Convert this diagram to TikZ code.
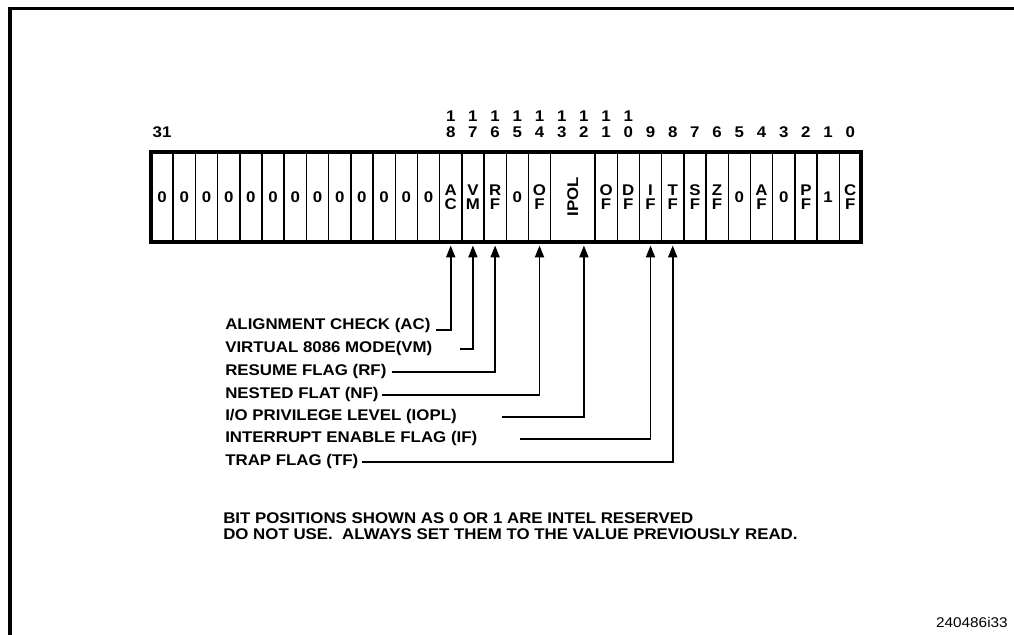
\documentclass[tikz,border=0pt]{standalone}
\usepackage{fontspec}
\setmainfont{Liberation Sans}[FakeStretch=1.09]
\usetikzlibrary{calc}
\usetikzlibrary{arrows.meta}

\newcommand{\cw}{0.555cm}

\begin{document}
\begin{tikzpicture}[x=0.025cm, y=-0.025cm,
		cell/.style={draw, line width=1pt, anchor=north west, minimum width=\cw, minimum height=2.25cm, inner sep=0pt, outer sep=0pt, align=center, font=\fontsize{11}{9.8}\selectfont\bfseries},
		bitnum/.style={anchor=south, inner sep=0pt, align=center, font=\fontsize{11}{11.4}\selectfont\bfseries},
		flaglbl/.style={anchor=base west, inner sep=0pt, font=\fontsize{11}{12}\selectfont\bfseries},
		flagline/.style={line width=1.2pt, -{Triangle[length=8.5pt, width=6.5pt]}, shorten >=2.5pt}
		]
		\useasboundingbox (0,0) rectangle (1014,635);
		% Page frame
		\draw[line width=2.2pt] (10,635) |- (1014,8.5);

		% Register cells
		\foreach \b in {31,...,19}
			\node[cell] (c\b) at ({151+(31-\b)*22.2},152) {0};
		\foreach \b/\t in {18/A\\C, 17/V\\M, 16/R\\F, 15/0, 14/O\\F}
			\node[cell] (c\b) at ({151+(31-\b)*22.2},152) {\t};
		\node[cell, minimum width=2*\cw] (c13) at ({151+18*22.2},152) {\rotatebox{90}{IPOL}};
		\foreach \b/\t in {11/O\\F, 10/D\\F, 9/I\\F, 8/T\\F, 7/S\\F, 6/Z\\F, 5/0, 4/A\\F, 3/0, 2/P\\F, 1/1, 0/C\\F}
			\node[cell] (c\b) at ({151+(31-\b)*22.2},152) {\t};
		\draw[line width=2.8pt] (c31.north west) rectangle (c0.south east);

		% Bit numbers
		\node[bitnum] (n31) at ({151+0.5*22.2},138) {31};
		\foreach \b in {18,...,10} {
			\pgfmathtruncatemacro\d{\b-10}
			\node[bitnum] (n\b) at ({151+(31.5-\b)*22.2},138) {1\\\d};
		}
		\foreach \b in {9,...,0}
			\node[bitnum] (n\b) at ({151+(31.5-\b)*22.2},138) {\b};

		% Flag labels
		\node[flaglbl] (lblAC) at (225,330) {ALIGNMENT CHECK (AC)};
		\node[flaglbl] (lblVM) at (225,353) {VIRTUAL 8086 MODE(VM)};
		\node[flaglbl] (lblRF) at (225,376) {RESUME FLAG (RF)};
		\node[flaglbl] (lblNF) at (225,399) {NESTED FLAT (NF)};
		\node[flaglbl] (lblIOPL) at (225,421) {I/O PRIVILEGE LEVEL (IOPL)};
		\node[flaglbl] (lblIF) at (225,443) {INTERRUPT ENABLE FLAG (IF)};
		\node[flaglbl] (lblTF) at (225,466) {TRAP FLAG (TF)};

		% Connectors
		\draw[flagline] ($(lblAC.base east)+(5,0)$) -| (c18.south);
		\draw[flagline] ($(lblVM.east)+(27,0)$) -| (c17.south);
		\draw[flagline] ($(lblRF.east)+(5,0)$) -| (c16.south);
		\draw[flagline] ($(lblNF.east)+(3,0)$) -| (c14.south);
		\draw[flagline] ($(lblIOPL.east)+(45,0)$) -| ($(c13.south)!0.5!(c13.south east)$);
		\draw[flagline] ($(lblIF.east)+(42,0)$) -| (c9.south);
		\draw[flagline] ($(lblTF.east)+(3,0)$) -| (c8.south);

		% Note and figure number
		\node[anchor=north west, inner sep=0pt, align=left, font=\fontsize{11}{11.4}\selectfont\bfseries] (note) at (223,512)
			{BIT POSITIONS SHOWN AS 0 OR 1 ARE INTEL RESERVED\\DO NOT USE.~~ALWAYS SET THEM TO THE VALUE PREVIOUSLY READ.};
		\node[anchor=east, inner sep=0pt, font=\fontsize{10}{11}\selectfont] (fignum) at (1008,622) {240486i33};
	\end{tikzpicture}
\end{document}
